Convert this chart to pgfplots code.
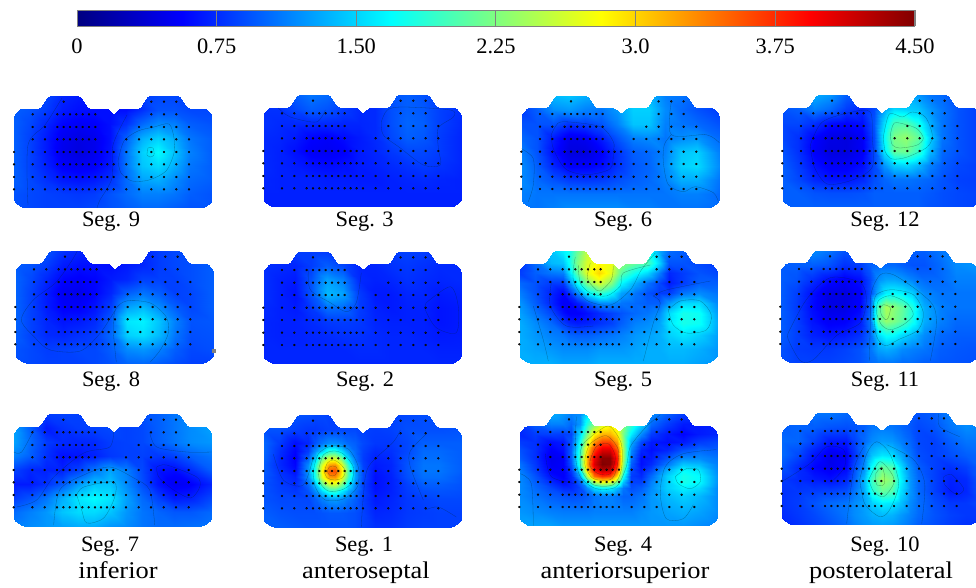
\documentclass[border=0pt]{standalone}
\usepackage{fontspec}
\setmainfont[FakeStretch=1.02]{Liberation Serif}
\newfontfamily\widefont[FakeStretch=1.1]{Liberation Serif}
\usepackage{pgfplots}
\pgfplotsset{compat=1.18}
\usepackage{pgfplotstable}
\pgfplotsset{every axis/.append style={colormap/jet,point meta min=0,point meta max=4.5}}
\pgfplotstableread{
x y z
49.7 106.3 0
137.3 106.3 0
150 106.3 0
162.3 106.3 0
18.7 93.7 0
31 93.7 0
43.3 93.7 0
49.7 93.7 0
56 93.7 0
62.3 93.7 0
68.7 93.7 0
75 93.7 0
81.3 93.7 0
137.3 93.7 0
150 93.7 0
162.3 93.7 0
18.7 81 0
31 81 0
43.3 81 0
49.7 81 0
56 81 0
62.3 81 0
68.7 81 0
75 81 0
81.3 81 0
125 81 0
137.3 81 0
150 81 0
162.3 81 0
175 81 0
18.7 68.7 0
31 68.7 0
43.3 68.7 0
49.7 68.7 0
56 68.7 0
62.3 68.7 0
68.7 68.7 0
75 68.7 0
81.3 68.7 0
112.3 68.7 0
125 68.7 0
137.3 68.7 0
150 68.7 0
162.3 68.7 0
175 68.7 0
0 56 0
18.7 56 0
31 56 0
43.3 56 0
49.7 56 0
56 56 0
62.3 56 0
68.7 56 0
75 56 0
81.3 56 0
87.3 56 0
93.3 56 0
99.7 56 0
112.3 56 0
125 56 0
137.3 56 0
150 56 0
162.3 56 0
175 56 0
0 43.7 0
18.7 43.7 0
31 43.7 0
43.3 43.7 0
49.7 43.7 0
56 43.7 0
62.3 43.7 0
68.7 43.7 0
75 43.7 0
81.3 43.7 0
87.3 43.7 0
93.3 43.7 0
99.7 43.7 0
112.3 43.7 0
125 43.7 0
137.3 43.7 0
150 43.7 0
162.3 43.7 0
175 43.7 0
0 31 0
18.7 31 0
31 31 0
43.3 31 0
49.7 31 0
56 31 0
62.3 31 0
68.7 31 0
75 31 0
81.3 31 0
87.3 31 0
93.3 31 0
99.7 31 0
112.3 31 0
125 31 0
137.3 31 0
150 31 0
162.3 31 0
175 31 0
0 18.7 0
18.7 18.7 0
31 18.7 0
43.3 18.7 0
49.7 18.7 0
56 18.7 0
62.3 18.7 0
68.7 18.7 0
75 18.7 0
81.3 18.7 0
87.3 18.7 0
93.3 18.7 0
99.7 18.7 0
112.3 18.7 0
125 18.7 0
137.3 18.7 0
150 18.7 0
162.3 18.7 0
175 18.7 0
}\electrodes
\newcommand\XD{0,16,32,48,64,80,96,112,128,144,160,176,198}
\newcommand\YD{112,98,84,70,56,42,28,14,0}
\pgfplotsset{panel/.style={at={(0pt,0pt)},anchor=south west,scale only axis,width=198pt,height=112pt,xmin=0,xmax=198,ymin=0,ymax=112,hide axis,view={0}{90},point meta min=-0.12,point meta max=4.35}}
\newcount\gridk
\newcommand\setgrid[3]{%
 \edef\gridxs{#1}\edef\gridys{#2}\global\gridk=0
 \foreach \yy in \gridys {\foreach \xx in \gridxs {%
   \expandafter\xdef\csname gridx\the\gridk\endcsname{\xx}%
   \expandafter\xdef\csname gridy\the\gridk\endcsname{\yy}%
   \global\advance\gridk by 1 }}}
% a contour line: x y pairs
\newcommand\ct[1]{\addplot3[smooth,line width=0.3pt,draw=black!70!teal,draw opacity=0.42] table[header=false,row sep=\\,x index=0,y index=1,z expr=0] {#1};}
% #1 left, #2 top (px from the top of the picture), #3 xs, #4 ys, #5 number of xs, #6 values, row by row, #7 contours
\newcommand\seg[7]{%
\setgrid{#3}{#4}{#5}%
\begin{scope}[shift={(#1pt,{(475-#2)*1pt})},x=1pt,y=1pt]
\begin{scope}
\clip[rounded corners=1.5pt] (0,6)--(8.7,0)--(189.5,0)--(198,6)--(198,93)--(192,99.7)--(173.7,99.7)--(165.3,112)--(133.7,112)--(126,99.7)--(106,99.7)--(99.7,93.7)--(93.3,99.7)--(74.3,99.7)--(66,112)--(34.3,112)--(26,99.7)--(6,99.7)--(0,93)--cycle;
\begin{axis}[panel]
\addplot3[surf,shader=interp,mesh/cols=#5,point meta=z] table[header=false,row sep=\\,
 x expr={\csname gridx\coordindex\endcsname},
 y expr={\csname gridy\coordindex\endcsname},z index=0] {#6};
\end{axis}
\end{scope}
\begin{axis}[panel,clip=false]
\addplot3[only marks,mark=*,mark size=0.95pt,black,mark options={draw=none,fill=black!85}] table[x=x,y=y,z=z] {\electrodes};
#7
\end{axis}
\end{scope}}
\newcommand\lab[3]{\node[anchor=base,inner sep=0pt] at (#1pt,{(587-#2)*1pt}) {\fontsize{22}{24}\selectfont #3};}
\newcommand\labb[3]{\node[anchor=base,inner sep=0pt] at (#1pt,{(587-#2)*1pt}) {\widefont\fontsize{24}{26}\selectfont #3};}
\begin{document}
\begin{tikzpicture}
\path[use as bounding box] (0pt,0pt) rectangle (976pt,587pt);
% colour scale
\begin{axis}[at={(77pt,561pt)},anchor=south west,scale only axis,width=838pt,height=16pt,xmin=0,xmax=4.5,ymin=0,ymax=1,view={0}{90},
 axis on top,axis line style={gray,line width=0.8pt},ytick=\empty,xtick={0,0.75,1.5,2.25,3,3.75,4.5},
 xticklabels={0,0.75,1.50,2.25,3.0,3.75,4.50},xmajorgrids,grid style={gray,line width=1pt},xtick style={draw=none},
 ticklabel style={font=\fontsize{22}{24}\selectfont},xtick align=inside,tick label style={yshift=-9pt}]
\addplot3[surf,shader=interp,mesh/cols=9,point meta=x] table[row sep=\\] {
x y z\\
0 0 0\\0.5625 0 0\\1.125 0 0\\1.6875 0 0\\2.25 0 0\\2.8125 0 0\\3.375 0 0\\3.9375 0 0\\4.5 0 0\\
0 1 0\\0.5625 1 0\\1.125 1 0\\1.6875 1 0\\2.25 1 0\\2.8125 1 0\\3.375 1 0\\3.9375 1 0\\4.5 1 0\\
};
\end{axis}
% Seg 9
\seg{14}{96}{\XD}{\YD}{13}{
.8\\.8\\.75\\.6\\.55\\.6\\.6\\.55\\.7\\.75\\.75\\.75\\.75\\
.85\\.8\\.7\\.55\\.5\\.5\\.5\\.5\\.65\\.8\\.8\\.75\\.75\\
.85\\.75\\.6\\.45\\.4\\.42\\.5\\.65\\.9\\1.05\\1.0\\.85\\.8\\
.85\\.72\\.55\\.38\\.32\\.36\\.5\\.85\\1.2\\1.35\\1.2\\.95\\.85\\
.85\\.72\\.55\\.36\\.3\\.36\\.52\\.95\\1.35\\1.55\\1.3\\1.0\\.85\\
.85\\.72\\.58\\.42\\.38\\.42\\.55\\.95\\1.3\\1.4\\1.2\\.95\\.85\\
.85\\.75\\.65\\.55\\.52\\.55\\.65\\.9\\1.15\\1.2\\1.05\\.9\\.85\\
.8\\.75\\.72\\.7\\.68\\.7\\.8\\.9\\1.0\\1.0\\.95\\.85\\.8\\
.8\\.75\\.72\\.72\\.72\\.75\\.8\\.85\\.9\\.9\\.85\\.8\\.8\\
}{\ct{104 47\\110 67\\124 77\\140 81\\155 84\\160 70\\160 55\\152 37\\135 28\\118 27\\107 35\\104 47\\}
\ct{133 53\\134 60\\139 60\\140 53\\136 51\\133 53\\}
\ct{48 110\\31 83\\14 63\\14 3\\}
\ct{113 93\\99 63\\98 30\\86 8\\83 0\\}}
% Seg 3
\seg{263.3}{95}{\XD}{\YD}{13}{
.65\\.7\\.85\\.95\\.9\\.75\\.65\\.65\\.8\\.85\\.8\\.7\\.65\\
.65\\.65\\.75\\.85\\.8\\.7\\.62\\.62\\.78\\.85\\.82\\.72\\.65\\
.65\\.62\\.62\\.62\\.62\\.6\\.6\\.62\\.78\\.88\\.85\\.72\\.62\\
.62\\.6\\.55\\.45\\.42\\.48\\.55\\.62\\.75\\.85\\.82\\.7\\.6\\
.62\\.58\\.5\\.4\\.38\\.42\\.55\\.6\\.68\\.75\\.75\\.7\\.6\\
.62\\.58\\.55\\.5\\.48\\.5\\.55\\.58\\.62\\.66\\.7\\.66\\.6\\
.6\\.58\\.58\\.58\\.56\\.56\\.55\\.55\\.58\\.6\\.62\\.6\\.58\\
.58\\.58\\.58\\.58\\.58\\.58\\.58\\.58\\.58\\.58\\.58\\.58\\.58\\
.58\\.58\\.58\\.58\\.58\\.58\\.58\\.58\\.58\\.58\\.58\\.58\\.58\\
}{\ct{118 85\\124 97\\140 100\\187 97\\190 90\\175 79\\175 59\\177 42\\160 42\\137 59\\120 72\\118 85\\}
\ct{15 99\\27 90\\53 85\\62 97\\}}
% Seg 6
\seg{521.3}{95.7}{\XD}{\YD}{13}{
.8\\1.0\\1.25\\1.3\\1.2\\1.1\\1.1\\1.3\\1.25\\1.0\\.95\\.85\\.7\\
.7\\.85\\1.05\\1.1\\1.0\\.95\\1.1\\1.35\\1.35\\1.05\\.9\\.8\\.7\\
.8\\.8\\.8\\.65\\.7\\.8\\1.0\\1.3\\1.3\\1.0\\.95\\.9\\.8\\
.9\\.8\\.55\\.35\\.38\\.55\\.8\\1.0\\1.05\\.95\\1.05\\1.1\\.9\\
1.0\\.8\\.5\\.3\\.3\\.42\\.65\\.85\\.9\\1.0\\1.3\\1.35\\1.0\\
1.05\\.85\\.6\\.42\\.42\\.48\\.65\\.82\\.88\\1.05\\1.35\\1.4\\1.05\\
1.05\\.9\\.8\\.7\\.68\\.7\\.78\\.85\\.9\\1.0\\1.2\\1.2\\.95\\
1.0\\.95\\.95\\.95\\.95\\.95\\.95\\.95\\.95\\.95\\1.0\\1.0\\.9\\
.95\\.95\\1.0\\1.05\\1.05\\1.05\\1.05\\1.0\\1.0\\.95\\.95\\.95\\.9\\
}{\ct{30 73\\34 81\\42 86\\79 81\\92 66\\92 56\\89 39\\65 33\\44 39\\32 59\\30 73\\}
\ct{150 106\\150 73\\185 73\\198 65\\}
\ct{150 73\\143 63\\142 46\\147 23\\162 16\\174 21\\192 15\\197 6\\}
\ct{0 59\\12 49\\12 23\\7 6\\}}
% Seg 12
\seg{782.3}{95}{0,16,32,48,64,80,92,102,112,124,136,148,160,176,198}{\YD}{15}{
.8\\.95\\1.2\\1.1\\.85\\.7\\.75\\.75\\.85\\1.2\\1.1\\.95\\.9\\.75\\.7\\
.8\\.85\\1.0\\.9\\.7\\.6\\.75\\1.15\\1.4\\1.35\\1.3\\1.1\\.95\\.8\\.7\\
.75\\.75\\.65\\.5\\.45\\.5\\.8\\1.4\\1.85\\1.9\\1.65\\1.2\\.95\\.8\\.7\\
.75\\.65\\.45\\.33\\.3\\.4\\.75\\1.55\\2.1\\2.2\\2.0\\1.35\\.95\\.8\\.7\\
.8\\.65\\.42\\.3\\.3\\.4\\.75\\1.45\\2.0\\2.05\\1.8\\1.25\\.9\\.8\\.7\\
.85\\.7\\.5\\.4\\.4\\.48\\.75\\1.1\\1.35\\1.4\\1.25\\1.0\\.85\\.75\\.7\\
.85\\.75\\.6\\.52\\.52\\.6\\.78\\.88\\.95\\.95\\.92\\.88\\.8\\.72\\.7\\
.85\\.85\\.8\\.78\\.78\\.8\\.85\\.85\\.85\\.85\\.85\\.82\\.78\\.75\\.72\\
.85\\.85\\.85\\.85\\.85\\.85\\.85\\.85\\.85\\.85\\.85\\.8\\.78\\.75\\.72\\
}{\ct{108 72\\112 84\\125 82\\135 78\\141 69\\135 62\\118 59\\110 62\\108 72\\}
\ct{101 70\\107 93\\120 90\\130 95\\143 90\\150 72\\145 60\\125 50\\110 48\\103 55\\101 70\\}
\ct{28 62\\40 85\\70 95\\88 95\\90 70\\90 40\\70 27\\45 23\\32 40\\28 62\\}}
% Seg 8
\seg{15.3}{251}{\XD}{\YD}{13}{
.85\\.85\\.8\\.65\\.6\\.6\\.6\\.6\\.6\\.7\\.75\\.8\\.8\\
.85\\.8\\.7\\.55\\.5\\.5\\.5\\.55\\.6\\.7\\.75\\.78\\.85\\
.88\\.75\\.6\\.45\\.42\\.45\\.55\\.6\\.72\\.72\\.72\\.78\\.85\\
.88\\.72\\.55\\.38\\.35\\.45\\.6\\.85\\.95\\.85\\.72\\.75\\.85\\
.88\\.72\\.55\\.42\\.42\\.52\\.72\\1.15\\1.25\\1.05\\.85\\.75\\.85\\
.88\\.72\\.6\\.52\\.55\\.62\\.85\\1.45\\1.5\\1.3\\1.0\\.8\\.82\\
.85\\.72\\.62\\.6\\.65\\.7\\.9\\1.35\\1.42\\1.25\\.95\\.78\\.8\\
.8\\.75\\.7\\.72\\.75\\.75\\.85\\1.05\\1.1\\1.0\\.85\\.75\\.78\\
.78\\.75\\.72\\.72\\.72\\.75\\.8\\.88\\.9\\.85\\.78\\.72\\.72\\
}{\ct{101 1\\98 33\\100 53\\111 62\\135 60\\151 46\\153 30\\145 13\\135 1\\}
\ct{62 112\\55 100\\40 80\\18 63\\6 43\\20 25\\35 13\\65 12\\85 30\\100 53\\}
\addplot3[only marks,mark=square*,mark size=1.5pt,gray] coordinates {(198.7,12.4,0)};}
% Seg 2
\seg{263.3}{251.7}{\XD}{\YD}{13}{
.62\\.65\\.7\\.7\\.7\\.65\\.62\\.62\\.7\\.72\\.7\\.65\\.62\\
.65\\.62\\.6\\.7\\.85\\.75\\.6\\.6\\.65\\.68\\.65\\.62\\.62\\
.65\\.58\\.55\\.8\\1.15\\1.0\\.62\\.58\\.6\\.65\\.62\\.6\\.62\\
.65\\.58\\.52\\.8\\1.25\\1.15\\.7\\.55\\.55\\.6\\.6\\.55\\.58\\
.62\\.58\\.55\\.68\\.92\\.9\\.7\\.58\\.55\\.58\\.58\\.52\\.55\\
.6\\.58\\.58\\.62\\.68\\.7\\.68\\.6\\.58\\.58\\.58\\.52\\.55\\
.6\\.58\\.58\\.6\\.62\\.65\\.65\\.62\\.6\\.6\\.58\\.55\\.56\\
.6\\.6\\.6\\.6\\.6\\.6\\.62\\.62\\.6\\.6\\.6\\.58\\.58\\
.6\\.6\\.6\\.6\\.6\\.6\\.6\\.6\\.6\\.6\\.6\\.6\\.6\\
}{\ct{45 94\\47 74\\67 61\\83 52\\93 61\\98 91\\}
\ct{163 61\\187 77\\195 57\\193 31\\173 36\\162 54\\163 61\\}}
% Seg 5
\seg{519.3}{251}{0,16,32,44,50,58,68,80,92,102,116,128,140,150,164,180,198}{112,100,90,80,70,60,50,40,28,14,0}{17}{
.9\\1.0\\1.3\\1.5\\1.6\\2.0\\2.4\\2.5\\2.4\\2.1\\1.9\\1.7\\1.2\\.9\\.85\\.75\\.7\\
.65\\.9\\1.25\\1.3\\1.6\\2.1\\2.5\\2.7\\2.6\\2.2\\2.0\\1.9\\1.4\\.8\\.8\\.75\\.7\\
.7\\.85\\.95\\1.0\\1.4\\1.95\\2.55\\2.85\\2.55\\1.95\\1.6\\1.4\\1.0\\.6\\.7\\.8\\.75\\
.9\\.8\\.7\\.7\\1.05\\1.55\\2.1\\2.5\\2.15\\1.55\\1.2\\.95\\.75\\.55\\.7\\.85\\.85\\
1.0\\.8\\.6\\.45\\.65\\1.0\\1.5\\1.8\\1.55\\1.15\\.95\\.8\\.7\\.7\\.95\\1.05\\.95\\
1.1\\.85\\.6\\.4\\.42\\.55\\.75\\1.05\\1.05\\.95\\.9\\.85\\.85\\1.1\\1.4\\1.4\\1.05\\
1.15\\.95\\.75\\.5\\.42\\.42\\.5\\.62\\.72\\.8\\.9\\.95\\1.05\\1.4\\1.65\\1.6\\1.15\\
1.2\\1.05\\.9\\.7\\.6\\.55\\.58\\.65\\.72\\.85\\1.0\\1.05\\1.15\\1.45\\1.65\\1.6\\1.2\\
1.2\\1.1\\1.0\\.95\\.88\\.85\\.85\\.9\\.95\\1.0\\1.1\\1.15\\1.2\\1.35\\1.45\\1.35\\1.15\\
1.2\\1.15\\1.1\\1.05\\1.05\\1.05\\1.05\\1.1\\1.1\\1.1\\1.15\\1.2\\1.2\\1.25\\1.25\\1.2\\1.1\\
1.2\\1.2\\1.2\\1.15\\1.15\\1.15\\1.15\\1.2\\1.2\\1.2\\1.2\\1.2\\1.2\\1.2\\1.2\\1.15\\1.1\\
}{\ct{71 100\\68 85\\75 75\\81 72\\92 83\\94 97\\}
\ct{59 98\\61 80\\71 70\\87 67\\101 77\\104 90\\131 98\\}
\ct{56 106\\54 83\\67 63\\91 58\\111 73\\122 93\\136 110\\}
\ct{32 80\\31 57\\47 37\\74 37\\}
\ct{149 53\\161 62\\181 62\\192 48\\187 33\\167 30\\154 38\\149 53\\}
\ct{124 2\\134 40\\141 60\\134 67\\}
\ct{134 67\\147 73\\191 82\\}
\ct{14 57\\24 23\\29 2\\}}
% Seg 11
\seg{780.3}{250.7}{0,16,32,48,64,80,90,98,106,114,122,132,144,160,176,198}{\YD}{16}{
.85\\.9\\1.05\\.95\\.8\\.75\\.8\\.8\\.85\\.85\\.85\\.85\\.85\\.95\\1.0\\1.0\\
.85\\.85\\.85\\.8\\.65\\.7\\.85\\.9\\.9\\.9\\.85\\.8\\.8\\.9\\1.05\\1.1\\
.85\\.8\\.65\\.5\\.42\\.5\\.75\\1.05\\1.15\\1.15\\1.1\\1.0\\.9\\.9\\1.0\\1.0\\
.85\\.72\\.5\\.33\\.3\\.42\\.75\\1.2\\1.5\\1.55\\1.5\\1.35\\1.05\\.95\\.95\\.95\\
.85\\.7\\.48\\.32\\.32\\.45\\.85\\1.9\\2.3\\2.15\\2.0\\1.7\\1.2\\1.0\\.95\\.95\\
.85\\.72\\.52\\.4\\.42\\.55\\.95\\1.95\\2.2\\2.1\\1.95\\1.65\\1.2\\1.0\\.9\\.9\\
.85\\.72\\.58\\.52\\.55\\.65\\.9\\1.4\\1.6\\1.55\\1.4\\1.25\\1.05\\.9\\.85\\.85\\
.8\\.7\\.68\\.68\\.72\\.8\\.95\\1.15\\1.2\\1.15\\1.05\\1.0\\.95\\.85\\.82\\.8\\
.78\\.72\\.72\\.72\\.75\\.8\\.9\\.95\\.95\\.95\\.9\\.9\\.85\\.82\\.8\\.78\\
}{\ct{100 55\\103 58\\110 55\\108 45\\105 43\\101 48\\100 55\\}
\ct{96 50\\98 62\\110 67\\126 60\\133 48\\123 38\\110 33\\101 38\\96 50\\}
\ct{93 55\\96 68\\111 73\\133 68\\143 50\\138 33\\118 23\\105 17\\96 27\\93 55\\}
\ct{89 2\\90 40\\91 70\\100 88\\113 88\\136 73\\153 57\\156 37\\150 2\\}
\ct{8 30\\26 63\\50 85\\80 80\\86 63\\80 40\\56 27\\33 3\\20 2\\8 23\\8 30\\}}
% Seg 7
\seg{13.7}{414}{\XD}{\YD}{13}{
1.0\\.95\\.7\\.72\\.72\\.72\\.75\\.72\\.78\\.85\\.95\\1.0\\1.05\\
1.15\\.85\\.55\\.65\\.7\\.72\\.75\\.72\\.75\\.85\\.95\\1.05\\1.15\\
1.15\\.9\\.7\\.62\\.6\\.62\\.7\\.72\\.75\\.85\\.95\\1.05\\1.1\\
1.0\\.85\\.65\\.5\\.52\\.58\\.68\\.72\\.72\\.68\\.72\\.85\\.95\\
.72\\.6\\.58\\.58\\.72\\.95\\1.15\\1.0\\.75\\.52\\.48\\.62\\.85\\
.55\\.55\\.65\\.82\\1.1\\1.3\\1.3\\1.05\\.78\\.52\\.38\\.42\\.6\\
.7\\.8\\.95\\1.2\\1.45\\1.55\\1.45\\1.15\\.9\\.72\\.55\\.58\\.75\\
.9\\1.0\\1.1\\1.3\\1.4\\1.4\\1.3\\1.1\\.95\\.88\\.82\\.82\\.9\\
1.0\\1.05\\1.1\\1.15\\1.2\\1.2\\1.1\\1.05\\.95\\.9\\.9\\.92\\.95\\
}{\ct{63 31\\70 39\\100 44\\101 29\\90 8\\73 3\\68 16\\63 31\\}
\ct{40 1\\46 36\\70 51\\96 59\\120 48\\136 36\\141 1\\}
\ct{143 59\\153 61\\183 49\\186 39\\177 28\\160 36\\145 49\\143 59\\}
\ct{0 74\\8 74\\20 96\\}
\ct{3 19\\23 26\\40 49\\70 73\\96 79\\100 96\\}
\ct{136 94\\143 79\\173 74\\198 74\\}}
% Seg 1
\seg{263.3}{415}{0,16,32,45,52,59,66,72,78,85,92,100,112,128,144,160,176,198}{112,98,84,76,69,62,56,50,43,36,28,14,0}{18}{
.8\\.8\\.8\\.78\\.75\\.75\\.72\\.72\\.72\\.72\\.72\\.72\\.7\\.72\\.75\\.78\\.78\\.78\\
.8\\.8\\.72\\.68\\.68\\.7\\.72\\.72\\.75\\.75\\.75\\.72\\.7\\.72\\.78\\.78\\.78\\.8\\
.9\\.7\\.5\\.6\\.8\\.95\\1.05\\1.05\\1.0\\.9\\.85\\.75\\.68\\.68\\.75\\.85\\.85\\.85\\
.9\\.65\\.45\\.7\\1.05\\1.35\\1.7\\1.7\\1.45\\1.1\\.9\\.72\\.62\\.65\\.75\\.9\\.9\\.85\\
.88\\.62\\.42\\.85\\1.3\\2.0\\2.45\\2.45\\2.1\\1.4\\.95\\.7\\.58\\.62\\.78\\.92\\.92\\.85\\
.85\\.62\\.45\\1.05\\1.65\\2.5\\3.1\\3.15\\2.65\\1.8\\1.1\\.72\\.55\\.6\\.8\\.95\\.95\\.85\\
.85\\.65\\.5\\1.1\\1.7\\2.7\\3.4\\3.45\\2.85\\1.95\\1.15\\.75\\.52\\.6\\.8\\.95\\.95\\.85\\
.82\\.68\\.58\\1.05\\1.65\\2.55\\3.1\\3.15\\2.7\\1.85\\1.15\\.75\\.5\\.58\\.78\\.92\\.92\\.82\\
.8\\.7\\.62\\.9\\1.3\\2.0\\2.45\\2.5\\2.15\\1.5\\1.05\\.72\\.5\\.58\\.72\\.85\\.85\\.8\\
.8\\.72\\.68\\.8\\1.05\\1.4\\1.7\\1.75\\1.5\\1.2\\.95\\.72\\.52\\.58\\.7\\.78\\.8\\.78\\
.8\\.75\\.75\\.75\\.85\\1.0\\1.1\\1.12\\1.05\\.95\\.85\\.7\\.55\\.6\\.68\\.72\\.75\\.75\\
.85\\.8\\.78\\.78\\.78\\.8\\.82\\.82\\.82\\.8\\.78\\.72\\.6\\.62\\.68\\.7\\.72\\.72\\
.85\\.85\\.82\\.8\\.8\\.8\\.8\\.8\\.8\\.8\\.78\\.72\\.65\\.65\\.7\\.72\\.72\\.72\\
}{\ct{64 56\\66 60\\69 61\\73 60\\74 56\\72 52\\69 51\\66 52\\64 56\\}
\ct{61 55\\64 64\\70 67\\77 63\\82 56\\79 49\\71 47\\64 49\\61 55\\}
\ct{55 56\\60 72\\70 76\\80 73\\90 60\\88 44\\78 37\\65 36\\57 44\\55 56\\}
\ct{50 56\\55 73\\68 81\\85 78\\95 60\\94 40\\80 28\\62 27\\52 40\\50 56\\}
\ct{98 0\\100 30\\105 60\\130 85\\137 97\\}
\ct{10 73\\20 47\\40 42\\50 70\\}
\ct{162 17\\175 20\\193 10\\}
\ct{160 27\\147 60\\147 76\\163 93\\}}
% Seg 4
\seg{519.3}{413.7}{0,16,32,44,52,61,68,75,83,91,98,104,112,122,132,148,164,180,198}{112,102,92,84,76,68,62,56,50,44,38,30,14,0}{19}{
.9\\1.0\\1.2\\1.1\\1.0\\1.05\\1.4\\1.7\\2.0\\2.3\\2.3\\2.0\\1.7\\1.4\\1.05\\.85\\.7\\.6\\.6\\
.65\\.85\\1.0\\1.0\\.9\\1.1\\1.7\\2.1\\2.5\\2.65\\2.6\\2.2\\1.8\\1.4\\.9\\.7\\.55\\.55\\.55\\
.6\\.7\\.72\\.7\\.75\\1.4\\2.1\\2.7\\3.0\\3.0\\2.75\\2.1\\1.5\\1.05\\.7\\.55\\.45\\.55\\.6\\
.7\\.65\\.5\\.55\\.8\\1.6\\2.45\\3.15\\3.5\\3.5\\3.1\\2.2\\1.2\\.75\\.55\\.5\\.55\\.7\\.75\\
.8\\.65\\.42\\.5\\.85\\1.75\\2.8\\3.55\\3.95\\3.95\\3.45\\2.3\\1.05\\.6\\.5\\.6\\.8\\.9\\.85\\
.85\\.65\\.36\\.42\\.85\\1.85\\3.0\\3.85\\4.3\\4.3\\3.7\\2.3\\.95\\.5\\.55\\.8\\1.05\\1.05\\.95\\
.95\\.68\\.38\\.42\\.8\\1.8\\3.05\\3.95\\4.35\\4.3\\3.65\\2.2\\.85\\.5\\.62\\.95\\1.3\\1.25\\1.0\\
1.0\\.72\\.42\\.42\\.7\\1.55\\2.85\\3.75\\4.1\\4.05\\3.35\\1.95\\.75\\.55\\.75\\1.2\\1.55\\1.45\\1.05\\
1.05\\.8\\.5\\.42\\.6\\1.2\\2.35\\3.3\\3.6\\3.5\\2.8\\1.65\\.7\\.62\\.9\\1.35\\1.65\\1.55\\1.1\\
1.05\\.85\\.62\\.48\\.58\\.9\\1.6\\2.3\\2.6\\2.5\\2.05\\1.3\\.72\\.72\\1.0\\1.35\\1.65\\1.55\\1.1\\
1.05\\.9\\.75\\.62\\.62\\.75\\1.05\\1.4\\1.55\\1.5\\1.25\\.95\\.78\\.85\\1.05\\1.35\\1.5\\1.4\\1.05\\
1.05\\.95\\.85\\.8\\.78\\.8\\.85\\.95\\1.0\\1.0\\.95\\.88\\.88\\.95\\1.1\\1.25\\1.35\\1.25\\1.05\\
1.1\\1.05\\1.0\\.98\\.98\\.98\\.98\\1.0\\1.0\\1.0\\1.0\\1.0\\1.0\\1.05\\1.1\\1.15\\1.2\\1.15\\1.05\\
1.15\\1.15\\1.15\\1.1\\1.1\\1.1\\1.1\\1.1\\1.1\\1.1\\1.1\\1.1\\1.1\\1.1\\1.1\\1.1\\1.1\\1.05\\1.0\\
}{\ct{71 66\\77 79\\89 82\\96 69\\91 52\\79 52\\71 59\\71 66\\}
\ct{66 69\\71 82\\87 90\\99 76\\97 56\\91 46\\74 47\\66 59\\66 69\\}
\ct{61 72\\64 82\\81 96\\91 99\\102 82\\102 56\\94 41\\74 41\\62 56\\61 72\\}
\ct{57 109\\56 72\\61 49\\77 37\\97 39\\107 59\\111 79\\127 99\\141 111\\}
\ct{26 72\\32 49\\57 42\\}
\ct{156 49\\167 57\\179 56\\181 44\\171 37\\159 42\\156 49\\}
\ct{197 76\\164 72\\146 59\\141 32\\147 7\\164 7\\174 21\\}
\ct{1 52\\12 42\\14 0\\}}
% Seg 10
\seg{781.7}{412.7}{0,16,32,48,64,72,82,90,100,110,118,128,136,152,168,184,198}{112,98,84,70,58,46,34,22,10,0}{17}{
.85\\.85\\.95\\.95\\.9\\.85\\.88\\.9\\.95\\.95\\.95\\.85\\.8\\.85\\1.0\\1.1\\1.05\\
.85\\.88\\.85\\.8\\.78\\.8\\.85\\.95\\.98\\.95\\.9\\.82\\.75\\.8\\.95\\1.05\\1.0\\
.9\\.88\\.72\\.55\\.55\\.72\\.9\\1.05\\1.12\\1.1\\1.0\\.88\\.75\\.72\\.85\\.95\\.95\\
.9\\.75\\.52\\.35\\.4\\.65\\.95\\1.3\\1.45\\1.4\\1.2\\.95\\.78\\.72\\.78\\.85\\.88\\
.8\\.62\\.45\\.36\\.45\\.75\\1.05\\1.6\\2.0\\1.9\\1.45\\1.05\\.85\\.72\\.65\\.72\\.85\\
.68\\.62\\.55\\.5\\.6\\.85\\1.25\\1.85\\2.25\\2.1\\1.55\\1.1\\.9\\.72\\.58\\.62\\.82\\
.65\\.68\\.7\\.72\\.78\\.95\\1.2\\1.7\\2.0\\1.9\\1.45\\1.1\\.9\\.72\\.55\\.6\\.8\\
.65\\.7\\.8\\.9\\.95\\1.05\\1.15\\1.35\\1.5\\1.45\\1.3\\1.05\\.92\\.78\\.68\\.68\\.75\\
.62\\.68\\.75\\.85\\.95\\1.05\\1.12\\1.2\\1.25\\1.22\\1.12\\1.0\\.9\\.8\\.72\\.68\\.68\\
.6\\.65\\.72\\.8\\.9\\1.0\\1.08\\1.12\\1.15\\1.12\\1.05\\.95\\.85\\.78\\.7\\.65\\.65\\
}{\ct{94 51\\100 58\\103 48\\102 40\\95 40\\94 51\\}
\ct{87 45\\98 63\\110 51\\112 41\\102 28\\92 33\\87 45\\}
\ct{78 45\\85 71\\95 83\\108 71\\117 41\\108 15\\98 8\\83 21\\78 45\\}
\ct{140 1\\143 41\\132 65\\105 80\\}
\ct{65 1\\72 55\\82 78\\}
\ct{162 48\\170 50\\182 36\\175 30\\163 40\\162 48\\}
\ct{0 43\\28 61\\45 78\\62 75\\63 58\\52 45\\}
\ct{157 111\\158 98\\178 88\\}}
\lab{111}{226.7}{Seg. 9}
\lab{364.7}{226.7}{Seg. 3}
\lab{623}{226.7}{Seg. 6}
\lab{885}{226.7}{Seg. 12}
\lab{111}{386.7}{Seg. 8}
\lab{365}{386.7}{Seg. 2}
\lab{623}{386.7}{Seg. 5}
\lab{885}{386.7}{Seg. 11}
\lab{110}{551.7}{Seg. 7}
\lab{364}{551.7}{Seg. 1}
\lab{623}{551.7}{Seg. 4}
\lab{885}{551.7}{Seg. 10}
\labb{118}{578.3}{inferior}
\labb{366}{578.3}{anteroseptal}
\labb{625}{578.3}{anteriorsuperior}
\labb{881}{578.3}{posterolateral}
\end{tikzpicture}
\end{document}
